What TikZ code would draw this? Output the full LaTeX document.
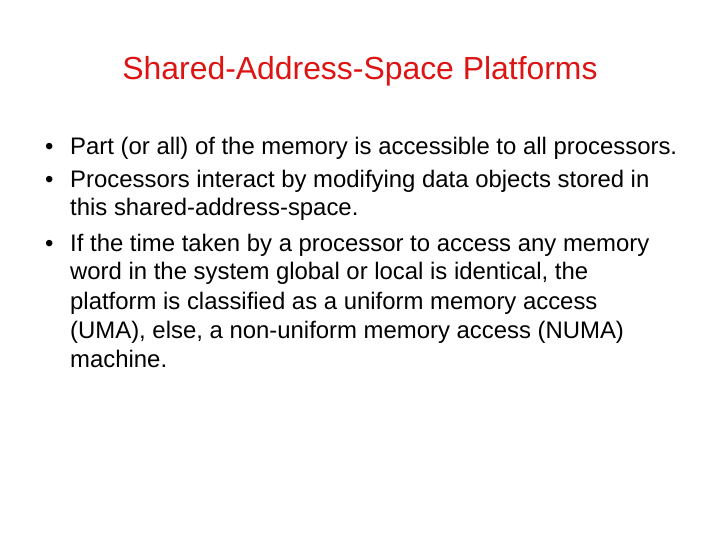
\documentclass[tikz,border=0pt]{standalone}
\usepackage{fontspec}
\setmainfont{Liberation Sans}
\begin{document}
\begin{tikzpicture}[x=1bp,y=-1bp,
  body/.style={anchor=base west,inner sep=0pt,font=\fontsize{23.9bp}{28bp}\selectfont},
  title/.style={anchor=base,inner sep=0pt,text={rgb,255:red,220;green,20;blue,20},font=\fontsize{31.9bp}{36bp}\selectfont}]
\useasboundingbox (0,0) rectangle (720,540);
\node[title] (t) at (360,80) {Shared-Address-Space Platforms};
\node[body] (b1) at (45,155) {•};
\node[body] (l1) at (70,155) {Part (or all) of the memory is accessible to all processors.};
\node[body] (b2) at (45,188) {•};
\node[body] (l2) at (70,188) {Processors interact by modifying data objects stored in};
\node[body] (l3) at (70,216) {this shared-address-space.};
\node[body] (b3) at (45,252) {•};
\node[body] (l4) at (70,252) {If the time taken by a processor to access any memory};
\node[body] (l5) at (70,280) {word in the system global or local is identical, the};
\node[body] (l6) at (70,309) {platform is classified as a uniform memory access};
\node[body] (l7) at (70,338) {(UMA), else, a non-uniform memory access (NUMA)};
\node[body] (l8) at (70,367) {machine.};
\end{tikzpicture}
\end{document}
